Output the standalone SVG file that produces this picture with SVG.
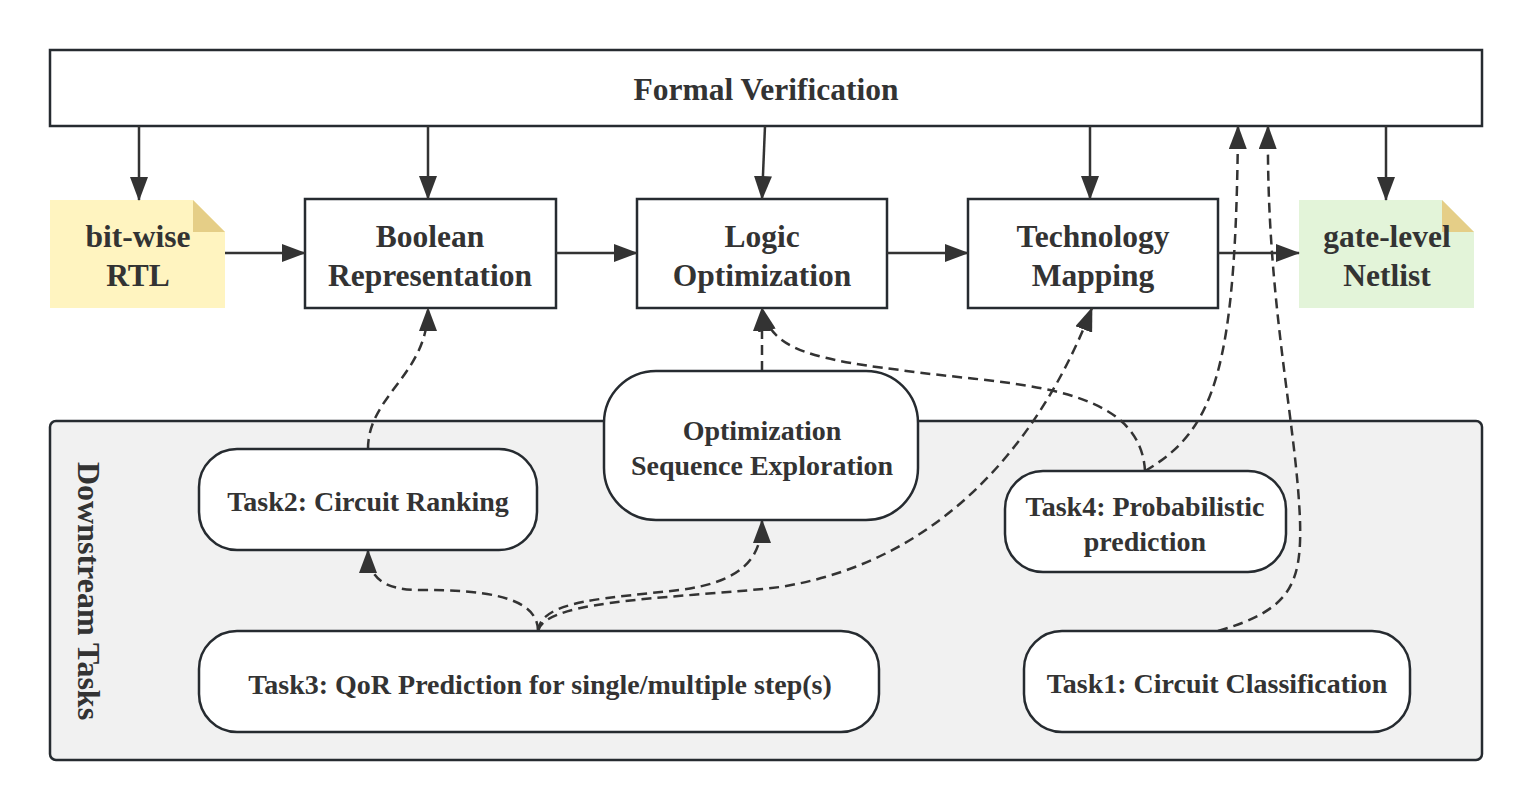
<svg xmlns="http://www.w3.org/2000/svg" width="1532" height="811" viewBox="0 0 1532 811">
<defs>
<style>
.box{fill:#fff;stroke:#262b30;stroke-width:2.5}
.t{font-family:"Liberation Serif","Times New Roman",serif;font-weight:bold;fill:#333;text-anchor:middle}
.big{font-size:31.5px}
.sm{font-size:28px}
.solid{fill:none;stroke:#333;stroke-width:2.5}
.dash{fill:none;stroke:#333;stroke-width:2.5;stroke-dasharray:10 6}
</style>
<marker id="ah" markerUnits="userSpaceOnUse" markerWidth="24" markerHeight="18" refX="23" refY="9" orient="auto">
<path d="M0,0 L24,9 L0,18 z" fill="#333"/>
</marker>
</defs>
<rect width="1532" height="811" fill="#fff"/>

<g id="downstream">
<rect x="50" y="421" width="1432" height="339" rx="6" fill="#f1f1f1" stroke="#262b30" stroke-width="2.5"/>
<text class="t" style="font-size:32px" transform="translate(77.5,591) rotate(90)">Downstream Tasks</text>
</g>

<g id="formal">
<rect class="box" x="50" y="50" width="1432" height="76"/>
<text class="t big" x="766" y="100">Formal Verification</text>
</g>

<g id="rtl">
<path d="M50,200 H193 L225,232 V308 H50 z" fill="#fff4c0"/>
<path d="M193,200 L225,232 H193 z" fill="#e5ce87"/>
<text class="t big" x="138" y="247">bit-wise</text>
<text class="t big" x="138" y="286">RTL</text>
</g>

<g id="boolean">
<rect class="box" x="305" y="199" width="251" height="109"/>
<text class="t big" x="430" y="247">Boolean</text>
<text class="t big" x="430" y="286">Representation</text>
</g>

<g id="logic">
<rect class="box" x="637" y="199" width="250" height="109"/>
<text class="t big" x="762" y="247">Logic</text>
<text class="t big" x="762" y="286">Optimization</text>
</g>

<g id="techmap">
<rect class="box" x="968" y="199" width="250" height="109"/>
<text class="t big" x="1093" y="247">Technology</text>
<text class="t big" x="1093" y="286">Mapping</text>
</g>

<g id="netlist">
<path d="M1299,200 H1442 L1474,232 V308 H1299 z" fill="#e3f4d9"/>
<path d="M1442,200 L1474,232 H1442 z" fill="#e5ce87"/>
<text class="t big" x="1387" y="247">gate-level</text>
<text class="t big" x="1387" y="286">Netlist</text>
</g>

<g id="connectors">
<path class="solid" d="M139,126 V200" marker-end="url(#ah)"/>
<path class="solid" d="M428,126 V199" marker-end="url(#ah)"/>
<path class="solid" d="M765,126 L762,199" marker-end="url(#ah)"/>
<path class="solid" d="M1090,126 V199" marker-end="url(#ah)"/>
<path class="solid" d="M1386,126 V200" marker-end="url(#ah)"/>
<path class="solid" d="M225,253 H305" marker-end="url(#ah)"/>
<path class="solid" d="M556,253 H637" marker-end="url(#ah)"/>
<path class="solid" d="M887,253 H968" marker-end="url(#ah)"/>
<path class="solid" d="M1218,253 H1299" marker-end="url(#ah)"/>

<path class="dash" d="M368,449 C368,395 428,375 428,308" marker-end="url(#ah)"/>
<path class="dash" d="M762,371 V308" marker-end="url(#ah)"/>
<path class="dash" d="M1145,471 C1140,380 1000,385 900,370 C800,358 770,345 762,308" marker-end="url(#ah)"/>
<path class="dash" d="M1145,471 C1215,430 1236,370 1238,126" marker-end="url(#ah)"/>
<path class="dash" d="M1218,631 C1290,610 1302,585 1300,520 C1296,420 1266,300 1268,126" marker-end="url(#ah)"/>
<path class="dash" d="M538,631 C538,595 480,590 420,590 C380,590 368,575 368,550" marker-end="url(#ah)"/>
<path class="dash" d="M538,631 C540,600 610,598 680,590 C740,582 762,560 762,520" marker-end="url(#ah)"/>
<path class="dash" d="M538,631 C545,598 690,598 780,587 C950,560 1045,430 1092,308" marker-end="url(#ah)"/>
</g>

<g id="optseq">
<rect class="box" x="604" y="371" width="314" height="149" rx="52"/>
<text class="t sm" x="762" y="440">Optimization</text>
<text class="t sm" x="762" y="475">Sequence Exploration</text>
</g>

<g id="task2">
<rect class="box" x="199" y="449" width="338" height="101" rx="38"/>
<text class="t sm" x="368" y="511">Task2: Circuit Ranking</text>
</g>

<g id="task4">
<rect class="box" x="1005" y="471" width="281" height="101" rx="38"/>
<text class="t sm" x="1145" y="516">Task4: Probabilistic</text>
<text class="t sm" x="1145" y="551">prediction</text>
</g>

<g id="task3">
<rect class="box" x="199" y="631" width="680" height="101" rx="38"/>
<text class="t sm" x="540" y="694">Task3: QoR Prediction for single/multiple step(s)</text>
</g>

<g id="task1">
<rect class="box" x="1024" y="631" width="386" height="101" rx="38"/>
<text class="t sm" x="1217" y="693">Task1: Circuit Classification</text>
</g>
</svg>
